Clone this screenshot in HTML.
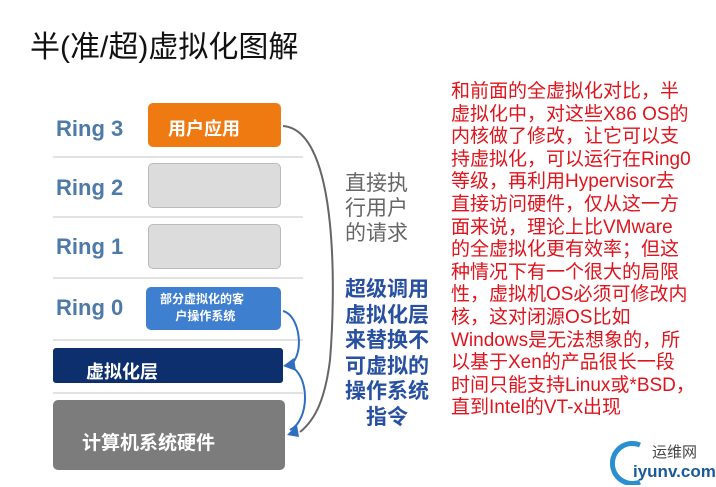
<!DOCTYPE html>
<html><head><meta charset="utf-8"><style>
body{margin:0;width:716px;height:487px;background:#fff;position:relative;overflow:hidden;font-family:"Liberation Sans","Noto Sans CJK SC",sans-serif}
.a{position:absolute;white-space:nowrap}
.ring{font-weight:bold;color:#4d7aa8;font-size:22px}
.sep{position:absolute;left:53px;width:250px;height:2px;background:#e2e2e2}
.box{position:absolute;border-radius:5px}
.red{color:#e0141c;font-size:19px;line-height:22.6px;left:451px;top:81px}
</style></head><body>
<div class="a" style="left:30px;top:22px;font-size:30px;color:#111">半(准/超)虚拟化图解</div>

<div class="a ring" style="left:56px;top:116px">Ring 3</div>
<div class="a ring" style="left:56px;top:175px">Ring 2</div>
<div class="a ring" style="left:56px;top:234px">Ring 1</div>
<div class="a ring" style="left:56px;top:295px">Ring 0</div>
<div class="sep" style="top:156px"></div>
<div class="sep" style="top:216px"></div>
<div class="sep" style="top:277px"></div>
<div class="sep" style="top:339px"></div>
<div class="sep" style="top:392px"></div>

<div class="box" style="left:148px;top:103px;width:133px;height:44px;background:#f07a12"></div>
<div class="a" style="left:168px;top:115px;font-size:18px;color:#fff;font-weight:bold">用户应用</div>
<div class="box" style="left:148px;top:163px;width:131px;height:43px;background:#dcdcdc;border:1px solid #bbb"></div>
<div class="box" style="left:148px;top:224px;width:131px;height:43px;background:#dcdcdc;border:1px solid #bbb"></div>
<div class="box" style="left:146px;top:287px;width:135px;height:43px;background:#3f7fd0"></div>
<div class="a" style="left:160px;top:291px;font-size:12px;color:#fff;font-weight:bold;text-align:center;line-height:17px">部分虚拟化的客<br>&nbsp;&nbsp;户操作系统</div>
<div class="box" style="left:53px;top:348px;width:230px;height:35px;background:#0d2f6e;border-radius:3px"></div>
<div class="a" style="left:86px;top:358px;font-size:18px;color:#fff;font-weight:bold">虚拟化层</div>
<div class="box" style="left:53px;top:400px;width:232px;height:70px;background:#7c7c7c"></div>
<div class="a" style="left:82px;top:428px;font-size:19px;color:#fff;font-weight:bold">计算机系统硬件</div>

<svg class="a" style="left:0;top:0" width="716" height="487">
<path d="M283 126 C340 130 335 300 330 360 C325 400 315 420 300 432" fill="none" stroke="#666" stroke-width="2"/>
<path d="M283 311 C300 315 305 355 290 365" fill="none" stroke="#2f6fbf" stroke-width="2"/>
<polygon points="283,366 294,358 296,371" fill="#2f6fbf"/>
<path d="M290 366 C310 375 310 420 290 430" fill="none" stroke="#2f6fbf" stroke-width="2"/>
<polygon points="287,435 297,425 299,437" fill="#2f6fbf"/>
</svg>

<div class="a" style="left:345px;top:171px;font-size:21px;color:#666;line-height:25px">直接执<br>行用户<br>的请求</div>
<div class="a" style="left:345px;top:277px;font-size:21px;color:#2850a0;line-height:25.5px;font-weight:bold;text-align:center">超级调用<br>虚拟化层<br>来替换不<br>可虚拟的<br>操作系统<br>指令</div>

<div class="a red">和前面的全虚拟化对比，半<br>虚拟化中，对这些X86 OS的<br>内核做了修改，让它可以支<br>持虚拟化，可以运行在Ring0<br>等级，再利用Hypervisor去<br>直接访问硬件，仅从这一方<br>面来说，理论上比VMware<br>的全虚拟化更有效率；但这<br>种情况下有一个很大的局限<br>性，虚拟机OS必须可修改内<br>核，这对闭源OS比如<br>Windows是无法想象的，所<br>以基于Xen的产品很长一段<br>时间只能支持Linux或*BSD，<br>直到Intel的VT-x出现</div>

<svg class="a" style="left:610px;top:440px" width="40" height="45"><path d="M30 5 A20 20 0 1 0 30 42" fill="none" stroke="#2a8fd0" stroke-width="5"/></svg>
<div class="a" style="left:652px;top:441px;font-size:15px;color:#444">运维网</div>
<div class="a" style="left:633px;top:462px;font-size:17px;color:#1a5a9a;font-weight:bold">iyunv.com</div>
</body></html>
